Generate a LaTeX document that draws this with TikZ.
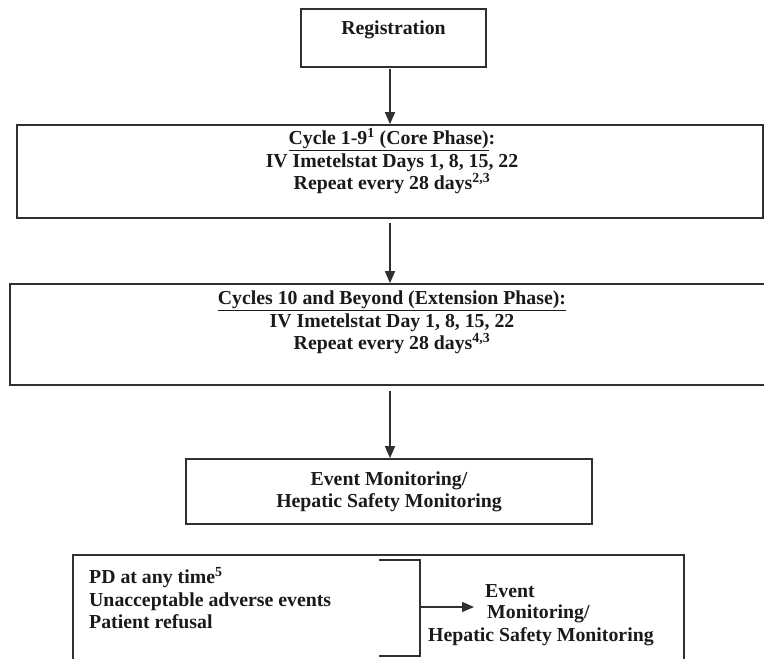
\documentclass[tikz,border=0pt]{standalone}
\usepackage{fontspec}
\setmainfont{Liberation Serif}
\usetikzlibrary{arrows.meta}
\definecolor{linecol}{HTML}{303030}
\definecolor{textcol}{HTML}{1A1A1A}
\tikzset{
  boxshape/.style={draw=linecol, line width=1.7pt, rectangle, inner sep=0pt},
  txt/.style={text=textcol, font=\fontsize{19.8}{22.5}\selectfont\bfseries, inner sep=0pt, align=center},
  ltxt/.style={text=textcol, font=\fontsize{19.8}{22.5}\selectfont\bfseries, inner sep=0pt, align=left},
  flow/.style={draw=linecol, line width=1.5pt, -{Triangle[length=12pt,width=10pt]}},
  brk/.style={draw=linecol, line width=1.5pt}
}
\begin{document}
\begin{tikzpicture}[x=1pt,y=-1pt]
\clip (0,0) rectangle (764,659);
\fill[white] (0,0) rectangle (764,659);
% boxes
\node[boxshape, minimum width=185pt, minimum height=58pt] (reg) at (393.5,38) {};
\node[boxshape, minimum width=746pt, minimum height=93pt] (core) at (390,171.5) {};
\node[boxshape, minimum width=770pt, minimum height=101pt] (ext) at (395,334.5) {};
\node[boxshape, minimum width=406pt, minimum height=65pt] (event) at (389,491.5) {};
\node[boxshape, minimum width=611pt, minimum height=130pt] (stop) at (378.5,620) {};
% texts
\node[txt] (regt) at (393.5,30) {Registration};
\node[txt] (coret) at (392,161) {\underline{Cycle 1-9\textsuperscript{1} (Core Phase)}:\\IV Imetelstat Days 1, 8, 15, 22\\Repeat every 28 days\textsuperscript{2,3}};
\node[txt] (extt) at (392,322.5) {\underline{Cycles 10 and Beyond (Extension Phase):}\\IV Imetelstat Day 1, 8, 15, 22\\Repeat every 28 days\textsuperscript{4,3}};
\node[txt] (eventt) at (389,492) {Event Monitoring/\\Hepatic Safety Monitoring};
\node[ltxt, anchor=west] (reasons) at (89,598) {PD at any time\textsuperscript{5}\\Unacceptable adverse events\\Patient refusal};
\node[ltxt, anchor=west] (ev1) at (485,591) {Event};
\node[ltxt, anchor=west] (ev2) at (487,614) {Monitoring/};
\node[ltxt, anchor=west] (ev3) at (428,637) {Hepatic Safety Monitoring};
% connectors
\draw[flow, shorten <=1pt] (reg.south -| 390,0) -- (core.north -| 390,0);
\draw[flow, shorten <=4pt] (core.south -| 390,0) -- (ext.north -| 390,0);
\draw[flow, shorten <=5pt] (ext.south -| 390,0) -- (event.north -| 390,0);
% bracket
\coordinate (bt) at (379,560);
\coordinate (bb) at (379,656);
\coordinate (bm) at (420,607);
\coordinate (tip) at (474,607);
\draw[brk] (bt) -- (bt -| bm) -- (bb -| bm) -- (bb);
\draw[flow] (bm) -- (tip);
\end{tikzpicture}
\end{document}
